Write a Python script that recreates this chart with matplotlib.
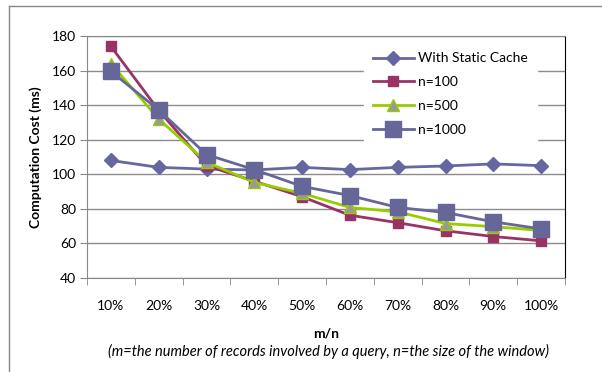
import matplotlib.pyplot as plt
import numpy as np

plt.rcParams['font.family'] = ['Lato', 'DejaVu Sans']

categories = ['10%', '20%', '30%', '40%', '50%', '60%', '70%', '80%', '90%', '100%']
static_cache = [108, 104, 103, 102.5, 104, 102.7, 104, 104.8, 106, 105]
n100 = [174, 137, 105, 96, 87, 76.3, 72, 67.3, 64, 61.5]
n500 = [164, 132, 107, 95.3, 89, 80.8, 78.3, 71.5, 69.7, 67.5]
n1000 = [159.6, 137.2, 111.4, 102.7, 93, 87.7, 80.8, 77.9, 72.5, 68.4]

fig = plt.figure(figsize=(6.02, 3.72), dpi=100)
# outer chart frame (only top and left edges visible)
fig.add_artist(plt.Line2D([9/602, 1], [1 - 6/372, 1 - 6/372], color='#888888', lw=1))
fig.add_artist(plt.Line2D([9/602, 9/602], [0, 1 - 6/372], color='#888888', lw=1))

ax = fig.add_axes([87/602, 1 - 278/372, (565 - 87)/602, (278 - 36)/372])
x = np.arange(len(categories))

ax.plot(x, static_cache, color='#6666A3', lw=2, marker='D', ms=7, label='With Static Cache', zorder=3)
ax.plot(x, n100, color='#993366', lw=2, marker='s', ms=7.5, label='n=100', zorder=3)
ax.plot(x, n500, color='#99CC00', lw=2, marker='^', ms=8, mfc='#999999', mec='#99CC00', label='n=500', zorder=3)
ax.plot(x, n1000, color='#666699', lw=2, marker='s', ms=11, label='n=1000', zorder=3)

ax.set_xlim(-0.5, len(categories) - 0.5)
ax.set_ylim(40, 180)
ax.set_yticks(range(40, 181, 20))
ax.set_xticks(x)
ax.set_xticklabels(categories, fontsize=10)
ax.set_xticks(np.arange(-0.5, len(categories)), minor=True)
ax.tick_params(axis='x', which='major', length=0, pad=16)
ax.tick_params(axis='x', which='minor', length=5, color='#888888', direction='out')
ax.tick_params(axis='y', labelsize=10, length=5, color='#888888', pad=3)
ax.yaxis.grid(True, color='#8c8c8c', lw=1)
ax.set_axisbelow(True)
for s in ['left', 'bottom', 'top']:
    ax.spines[s].set_color('#888888')
ax.spines['right'].set_color('black')

ax.set_ylabel('Computation Cost (ms)', fontsize=10, fontweight='bold', labelpad=7)

leg = ax.legend(loc='upper right', bbox_to_anchor=(0.955, 0.995), frameon=True, fontsize=10,
                handlelength=3, labelspacing=0.85, borderpad=0.6, handletextpad=0.3)
leg.get_frame().set_edgecolor('white')
leg.get_frame().set_facecolor('white')
leg.get_frame().set_alpha(1)
leg.get_frame().set_boxstyle('square', pad=0)

fig.text(326/602, 1 - 333/372, 'm/n', ha='center', va='center', fontsize=10, fontweight='bold')
fig.text(328/602, 1 - 351/372, '(m=the number of records involved by a query, n=the size of the window)',
         ha='center', va='center', fontsize=10.5, style='italic')

fig.savefig('out.png', dpi=100)
